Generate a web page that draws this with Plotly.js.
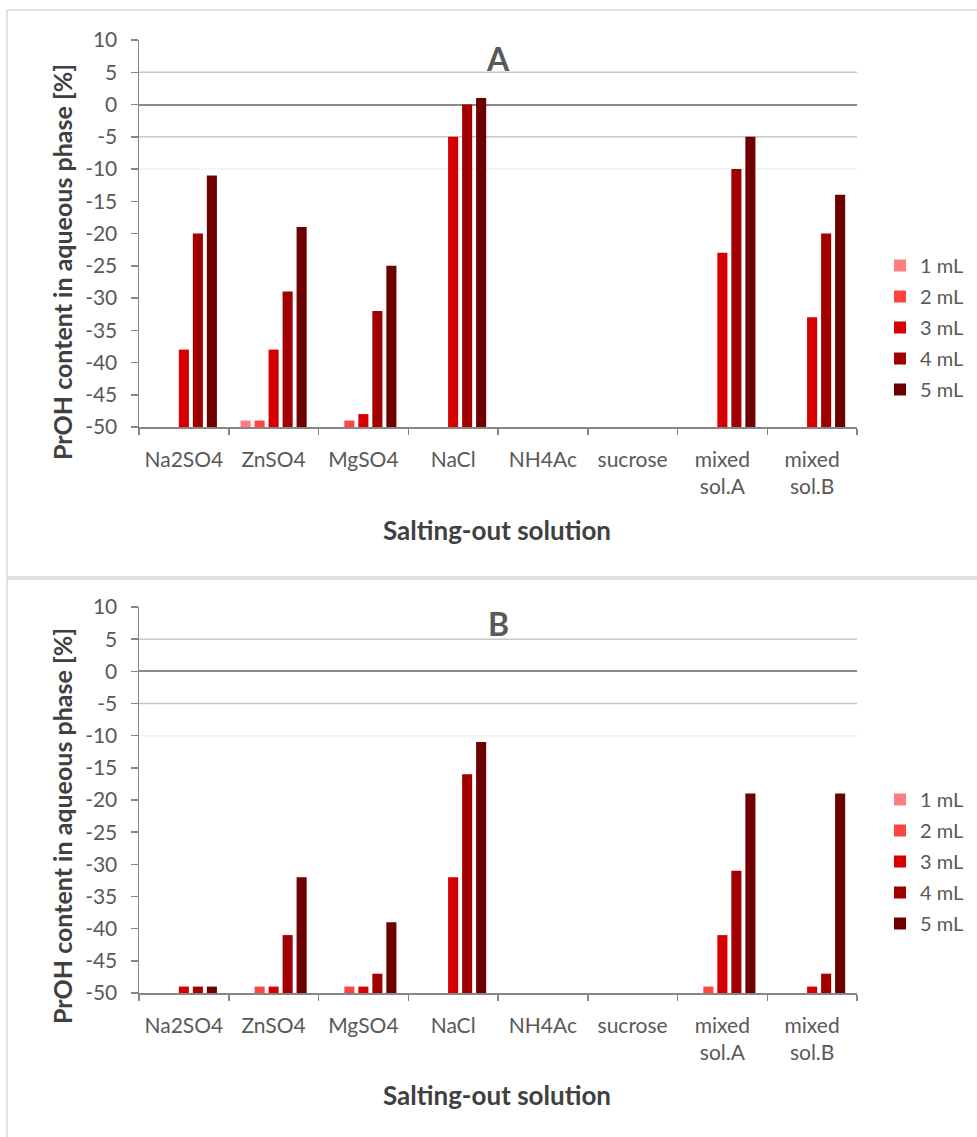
<!DOCTYPE html>
<html>
<head>
<meta charset="utf-8">
<script src="https://cdn.plot.ly/plotly-3.0.1.min.js"></script>
<style>html,body{margin:0;padding:0;background:#fff;}#chart{width:977px;height:1137px;}</style>
</head>
<body>
<div id="chart"></div>
<script>
// ---- data ----
const categories = ['Na2SO4', 'ZnSO4', 'MgSO4', 'NaCl', 'NH4Ac', 'sucrose', 'mixed<br>sol.A', 'mixed<br>sol.B'];
const seriesNames = ['1 mL', '2 mL', '3 mL', '4 mL', '5 mL'];
const seriesColors = ['#FF7C80', '#FF4343', '#D60000', '#A20000', '#6E0000'];
const yTickVals = [10, 5, 0, -5, -10, -15, -20, -25, -30, -35, -40, -45, -50];
const yTickText = ['10', '5', '0', '-5', '-10', '-15', '-20', '-25', '-30', '-35', '-40', '-45', '-50'];
const gridValues = [5, -5];
const faintGridValues = [-10];

// Panel A
const a_1mL = [null, -49, null, null, null, null, null, null];
const a_2mL = [null, -49, -49, null, null, null, null, null];
const a_3mL = [-38, -38, -48, -5, null, null, -23, -33];
const a_4mL = [-20, -29, -32, 0, null, null, -10, -20];
const a_5mL = [-11, -19, -25, 1, null, null, -5, -14];

// Panel B
const b_1mL = [null, null, null, null, null, null, null, null];
const b_2mL = [null, -49, -49, null, null, null, -49, null];
const b_3mL = [-49, -49, -49, -32, null, null, -41, -49];
const b_4mL = [-49, -41, -47, -16, null, null, -31, -47];
const b_5mL = [-49, -32, -39, -11, null, null, -19, -19];

const panelA = [a_1mL, a_2mL, a_3mL, a_4mL, a_5mL];
const panelB = [b_1mL, b_2mL, b_3mL, b_4mL, b_5mL];

// ---- layout constants ----
const W = 977, H = 1137;
const AXIS_MIN = -50, AXIS_MAX = 10;
const FONT = 'Lato, "Open Sans", sans-serif';
const GREY = '#595959';
const DARK = '#404040';
const LINE = '#868686';

const px = x => x / W;
const py = y => 1 - y / H;

function barTraces(panel, xa, ya, leg, tag) {
  return panel.map((vals, i) => ({
    type: 'bar',
    name: seriesNames[i],
    x: categories,
    y: vals.map(v => v === null ? null : v - AXIS_MIN),
    base: AXIS_MIN,
    marker: {color: seriesColors[i], line: {width: 0}},
    xaxis: xa, yaxis: ya,
    legend: leg,
    legendgroup: tag + i,
    hoverinfo: 'skip'
  }));
}

const data = [
  ...barTraces(panelA, 'x', 'y', 'legend', 'A'),
  ...barTraces(panelB, 'x2', 'y2', 'legend2', 'B')
];

function xAxis(anchor) {
  return {
    domain: [px(139), px(857)],
    anchor: anchor,
    type: 'category',
    tickson: 'boundaries',
    ticks: 'outside', ticklen: 6, tickwidth: 1.5, tickcolor: LINE,
    showline: true, linecolor: LINE, linewidth: 1.5,
    showgrid: false, zeroline: false,
    tickfont: {family: FONT, size: 21, color: GREY},
    ticklabelstandoff: 13,
    fixedrange: true
  };
}
function yAxis(anchor, dom) {
  return {
    domain: dom,
    anchor: anchor,
    range: [AXIS_MIN, AXIS_MAX],
    tickmode: 'array', tickvals: yTickVals, ticktext: yTickText,
    ticks: 'outside', ticklen: 7, tickwidth: 1.5, tickcolor: LINE,
    showline: true, linecolor: LINE, linewidth: 1.5,
    showgrid: false,
    zeroline: true, zerolinecolor: '#8A8A8A', zerolinewidth: 2,
    tickfont: {family: FONT, size: 21, color: GREY},
    ticklabelstandoff: 9,
    fixedrange: true
  };
}

const domA = [py(427), py(40)];
const domB = [py(993), py(607)];

function legend(topPx) {
  return {
    x: px(880), xanchor: 'left',
    y: py(topPx), yanchor: 'top',
    font: {family: FONT, size: 20, color: GREY},
    bgcolor: 'rgba(0,0,0,0)', borderwidth: 0,
    tracegroupgap: 2,
    itemclick: false, itemdoubleclick: false
  };
}

const annotations = [
  {text: '<b>A</b>', x: px(498), y: py(58), font: {family: FONT, size: 32, color: GREY}},
  {text: '<b>B</b>', x: px(498), y: py(623), font: {family: FONT, size: 32, color: GREY}},
  {text: '<b>PrOH content in aqueous phase [%]</b>', x: px(62), y: py(262), textangle: -90, font: {family: FONT, size: 25, color: DARK}},
  {text: '<b>PrOH content in aqueous phase [%]</b>', x: px(62), y: py(826), textangle: -90, font: {family: FONT, size: 25, color: DARK}},
  {text: '<b>Salting-out solution</b>', x: px(497), y: py(530), font: {family: FONT, size: 26, color: DARK}},
  {text: '<b>Salting-out solution</b>', x: px(497), y: py(1095), font: {family: FONT, size: 26, color: DARK}}
].map(a => Object.assign({xref: 'paper', yref: 'paper', showarrow: false, xanchor: 'center', yanchor: 'middle'}, a));

function gridShapes(xa, ya, vals, color) {
  return vals.map(v => ({
    type: 'line', xref: xa + ' domain', yref: ya,
    x0: 0, x1: 1, y0: v, y1: v,
    line: {color: color, width: 1.5}, layer: 'below'
  }));
}

const shapes = [
  {type: 'rect', xref: 'paper', yref: 'paper', x0: px(7), x1: px(995), y0: py(577), y1: py(10), line: {color: '#D9D9D9', width: 1.5}, fillcolor: 'rgba(0,0,0,0)', layer: 'below'},
  {type: 'rect', xref: 'paper', yref: 'paper', x0: px(7), x1: px(995), y0: py(1150), y1: py(579), line: {color: '#D9D9D9', width: 1.5}, fillcolor: 'rgba(0,0,0,0)', layer: 'below'},
  ...gridShapes('x', 'y', gridValues, '#C8C8C8'),
  ...gridShapes('x2', 'y2', gridValues, '#C8C8C8'),
  ...gridShapes('x', 'y', faintGridValues, '#F0F0F0'),
  ...gridShapes('x2', 'y2', faintGridValues, '#F0F0F0')
];

const layout = {
  width: W, height: H,
  margin: {l: 0, r: 0, t: 0, b: 0, pad: 0},
  paper_bgcolor: '#ffffff', plot_bgcolor: 'rgba(0,0,0,0)',
  barmode: 'group', bargap: 0.22, bargroupgap: 0.28,
  showlegend: true,
  xaxis: xAxis('y'),
  yaxis: yAxis('x', domA),
  xaxis2: xAxis('y2'),
  yaxis2: yAxis('x2', domB),
  legend: legend(246),
  legend2: legend(780),
  annotations: annotations,
  shapes: shapes
};

Plotly.newPlot('chart', data, layout, {displayModeBar: false, staticPlot: true});
</script>
</body>
</html>
